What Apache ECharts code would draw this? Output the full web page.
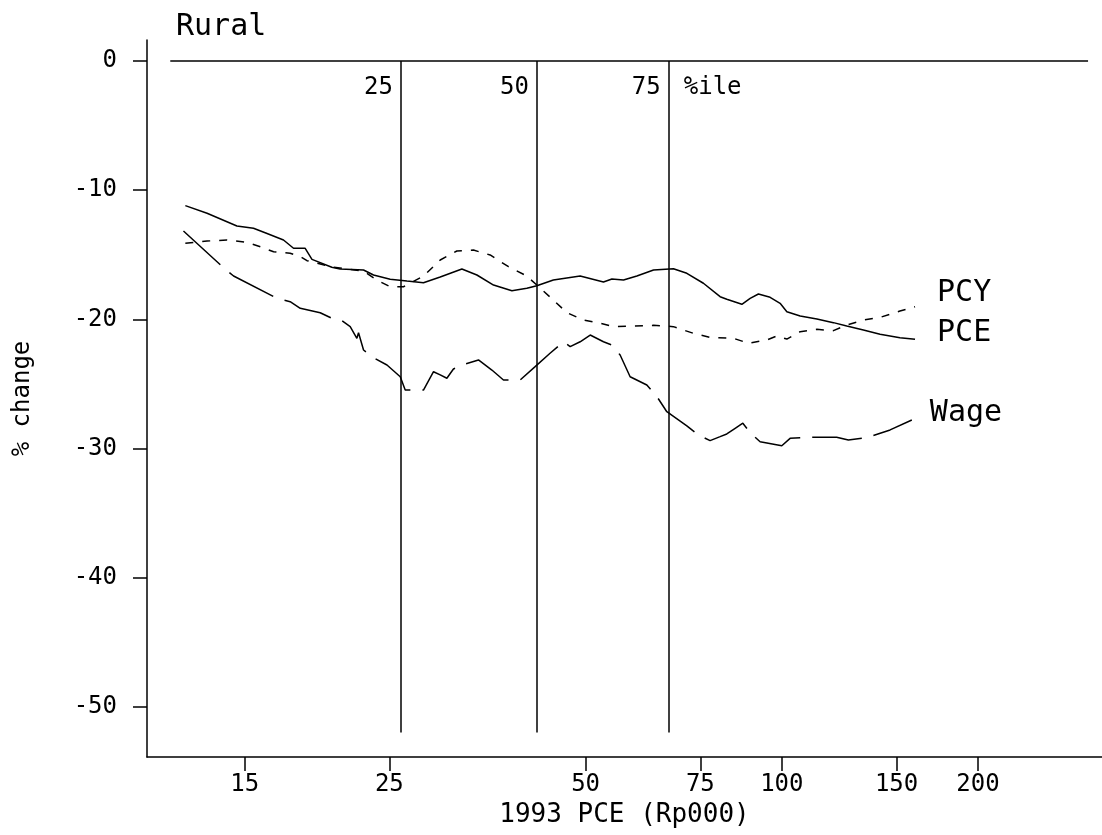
<!DOCTYPE html>
<html>
<head>
<meta charset="utf-8">
<script src="https://cdn.jsdelivr.net/npm/echarts@6/dist/echarts.min.js"></script>
<style>
  html, body { margin: 0; padding: 0; background: #fff; }
  #chart { width: 1102px; height: 835px; }
</style>
</head>
<body>
<div id="chart"></div>
<script>
// x = 1993 PCE (Rp000), log scale; y = % change
const xTicks = [15, 25, 50, 75, 100, 150, 200];
const yTicks = [0, -10, -20, -30, -40, -50];

// percentile lines (25th, 50th, 75th) of 1993 PCE
const pctValues = [26.04, 42.09, 67.08];
const pctLabels = ['25', '50', '75'];

// PCE - solid
const pcePoints = [
  [12.16, -11.20], [13.13, -11.79], [14.59, -12.78], [15.47, -12.95], [16.12, -13.30],
  [17.20, -13.86], [17.82, -14.50], [18.57, -14.50], [19.02, -15.36], [20.40, -15.97],
  [21.01, -16.11], [22.82, -16.18], [23.64, -16.57], [25.07, -16.90], [26.60, -17.04],
  [28.20, -17.17], [29.92, -16.73], [32.30, -16.11], [34.06, -16.57], [36.12, -17.35],
  [38.54, -17.79], [40.63, -17.60], [42.09, -17.40], [44.62, -16.96], [49.05, -16.65],
  [53.26, -17.11], [54.87, -16.88], [57.17, -16.96], [59.93, -16.65], [63.56, -16.18],
  [68.19, -16.08], [71.50, -16.44], [75.81, -17.21], [80.42, -18.25], [82.34, -18.45],
  [86.84, -18.84], [89.42, -18.38], [92.07, -18.04], [95.96, -18.30], [99.40, -18.76],
  [101.8, -19.41], [106.7, -19.75], [113.2, -19.98], [120.0, -20.26], [125.8, -20.52],
  [133.4, -20.83], [141.5, -21.16], [151.8, -21.43], [160.1, -21.55]
];

// PCY - short dashes
const pcyPoints = [
  [12.16, -14.12], [13.13, -13.94], [14.08, -13.86], [15.11, -14.04], [15.94, -14.43],
  [16.61, -14.77], [17.61, -14.89], [18.25, -15.15], [18.69, -15.46], [20.40, -15.95],
  [22.82, -16.26], [23.92, -16.96], [25.07, -17.48], [26.28, -17.48], [28.20, -16.65],
  [29.92, -15.41], [31.73, -14.71], [33.65, -14.64], [35.69, -15.02], [38.08, -15.93],
  [40.63, -16.65], [42.09, -17.35], [44.62, -18.51], [46.80, -19.49], [49.63, -20.06],
  [52.64, -20.31], [55.17, -20.57], [59.22, -20.52], [63.56, -20.47], [68.19, -20.57],
  [73.18, -21.09], [77.62, -21.40], [84.30, -21.47], [88.88, -21.86], [94.84, -21.60],
  [98.25, -21.29], [101.8, -21.53], [106.7, -20.96], [113.2, -20.78], [120.0, -20.88],
  [125.8, -20.44], [133.4, -20.06], [141.5, -19.85], [151.8, -19.36], [160.1, -19.03]
];

// Wage - long dashes
const wagePoints = [
  [12.08, -13.16], [13.92, -16.01], [14.42, -16.65], [16.81, -18.38], [17.61, -18.64],
  [18.25, -19.15], [19.58, -19.49], [20.52, -19.98], [21.14, -20.11], [21.77, -20.57],
  [22.29, -21.47], [22.42, -21.04], [22.82, -22.38], [23.64, -22.98], [24.79, -23.54],
  [25.98, -24.45], [26.44, -25.48], [28.20, -25.48], [29.22, -24.06], [29.92, -24.31],
  [30.63, -24.57], [31.35, -23.85], [32.68, -23.46], [34.25, -23.15], [35.91, -23.93],
  [37.41, -24.70], [39.68, -24.70], [41.84, -23.67], [44.10, -22.63], [46.24, -21.74],
  [47.35, -22.12], [49.05, -21.74], [50.82, -21.22], [53.26, -21.74], [54.87, -21.99],
  [56.49, -22.77], [58.52, -24.45], [62.08, -25.09], [64.33, -25.99], [66.62, -27.16],
  [71.50, -28.26], [74.48, -28.96], [77.62, -29.40], [80.42, -29.09], [82.34, -28.88],
  [84.81, -28.44], [87.14, -28.05], [89.42, -28.78], [92.62, -29.48], [100.0, -29.79],
  [102.97, -29.22], [110.5, -29.14], [121.4, -29.14], [126.5, -29.35], [135.0, -29.17],
  [146.6, -28.57], [158.3, -27.80]
];

const FONT = 'DejaVu Sans Mono';
const INK = '#000';

let chart = echarts.init(document.getElementById('chart'), null, { renderer: 'canvas' });

function curve(name, points, dash, labelOffset) {
  return {
    name: name,
    type: 'line',
    data: points,
    showSymbol: false,
    symbol: 'none',
    silent: true,
    lineStyle: { color: INK, width: 1.5, type: dash },
    endLabel: {
      show: true,
      formatter: name,
      color: INK,
      fontFamily: FONT,
      fontSize: 30,
      distance: 0,
      offset: labelOffset
    }
  };
}

// small text markers sitting on the zero line (percentile names)
function pctText(data, position, distance) {
  return {
    type: 'scatter',
    silent: true,
    symbolSize: 0,
    itemStyle: { opacity: 1 },
    data: data,
    label: {
      show: true,
      position: position,
      distance: distance,
      offset: [0, 27],
      formatter: p => p.name,
      fontFamily: FONT,
      fontSize: 24,
      color: INK
    }
  };
}

chart.setOption({
  animation: false,
  backgroundColor: '#fff',
  title: {
    text: 'Rural',
    left: 171,
    top: 7,
    textStyle: { fontFamily: FONT, fontSize: 30, fontWeight: 'normal', color: INK }
  },
  grid: { left: 147, right: 0, top: 40, bottom: 78, containLabel: false, outerBoundsMode: 'none' },
  xAxis: {
    type: 'log',
    logBase: 10,
    min: 10.62,
    max: 309.9,
    name: '1993 PCE (Rp000)',
    nameLocation: 'middle',
    nameGap: 43,
    nameTextStyle: { fontFamily: FONT, fontSize: 26, color: INK },
    axisLine: { show: true, onZero: false, lineStyle: { color: INK, width: 1.5 } },
    axisTick: { show: true, length: 14, customValues: xTicks, lineStyle: { color: INK, width: 1.5 } },
    axisLabel: {
      customValues: xTicks,
      margin: 16,
      fontFamily: FONT,
      fontSize: 24,
      color: INK,
      formatter: v => String(Math.round(v))
    },
    splitLine: { show: false },
    minorTick: { show: false }
  },
  yAxis: {
    type: 'value',
    min: -53.9,
    max: 1.63,
    name: '% change',
    nameLocation: 'middle',
    nameGap: 112,
    nameRotate: 90,
    nameTextStyle: { fontFamily: FONT, fontSize: 24, color: INK },
    axisLine: { show: true, onZero: false, lineStyle: { color: INK, width: 1.5 } },
    axisTick: { show: true, length: 14, customValues: yTicks, lineStyle: { color: INK, width: 1.5 } },
    axisLabel: {
      customValues: yTicks,
      margin: 30,
      fontFamily: FONT,
      fontSize: 24,
      color: INK
    },
    splitLine: { show: false }
  },
  series: [
    // zero line and percentile lines
    {
      type: 'line',
      data: [],
      silent: true,
      markLine: {
        silent: true,
        symbol: 'none',
        label: { show: false },
        lineStyle: { color: INK, width: 1.5, type: 'solid' },
        data: [[{ coord: [11.53, 0] }, { coord: [295, 0] }]].concat(
          pctValues.map(v => [{ coord: [v, 0] }, { coord: [v, -52] }])
        )
      }
    },
    pctText(pctValues.map((v, i) => ({ value: [v, 0], name: pctLabels[i] })), 'left', 8),
    pctText([{ value: [pctValues[2], 0], name: '%ile' }], 'right', 15),
    curve('PCY', pcyPoints, [8, 9], [22, -14]),
    curve('PCE', pcePoints, 'solid', [22, -6]),
    curve('Wage', wagePoints, [50, 12], [18, -7])
  ]
});

window.addEventListener('resize', () => {
  setTimeout(function () {
    chart.resize();
  }, 0);
});
</script>
</body>
</html>
